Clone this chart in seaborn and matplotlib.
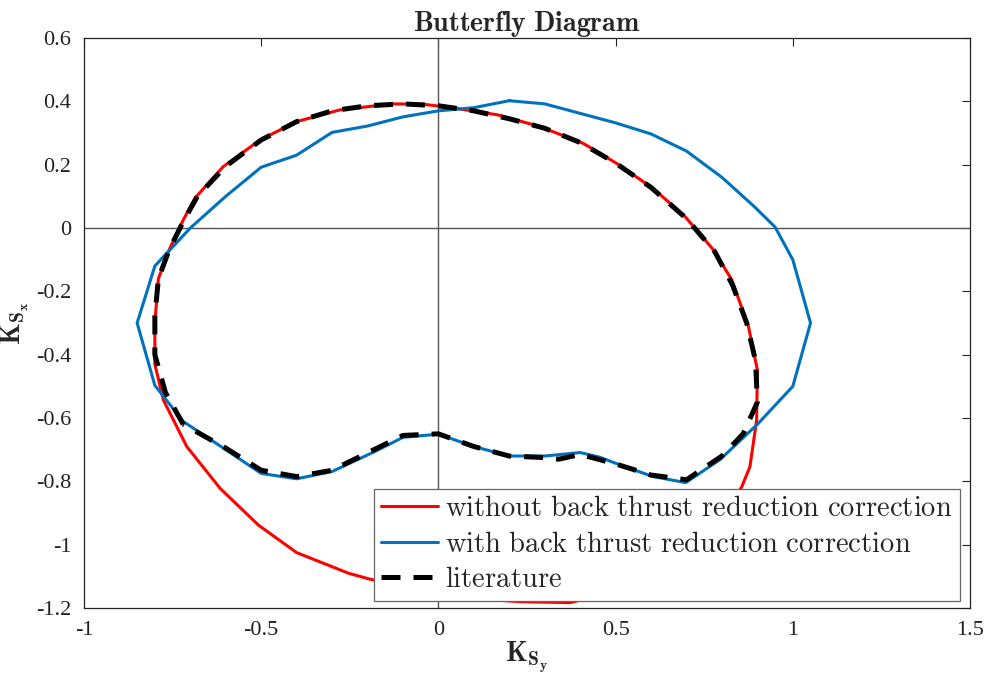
import numpy as np, pandas as pd
import matplotlib
matplotlib.use("Agg")
import matplotlib.pyplot as plt
import seaborn as sns

# ---- data ----
without_x = [-0.80, -0.79, -0.76, -0.72, -0.687, -0.607, -0.503, -0.40, -0.278, -0.132, -0.043, 0.05,
             0.169, 0.287, 0.409, 0.503, 0.606, 0.696, 0.776, 0.828, 0.875, 0.90, 0.898, 0.879, 0.856,
             0.80, 0.70, 0.60, 0.50, 0.428, 0.371, 0.23, 0.10, 0.0, -0.10, -0.193, -0.254, -0.40,
             -0.508, -0.616, -0.71, -0.776, -0.80, -0.80]
without_y = [-0.30, -0.16, -0.07, 0.025, 0.094, 0.194, 0.278, 0.336, 0.373, 0.392, 0.391, 0.378,
             0.357, 0.32, 0.267, 0.204, 0.125, 0.036, -0.069, -0.164, -0.312, -0.448, -0.606, -0.754, -0.817,
             -0.92, -1.03, -1.11, -1.15, -1.168, -1.183, -1.18, -1.17, -1.155, -1.13, -1.109, -1.09, -1.025,
             -0.938, -0.822, -0.69, -0.543, -0.43, -0.30]

with_x = [0.2, 0.3, 0.4, 0.5, 0.6, 0.7, 0.8, 0.89, 0.95, 1.0, 1.05, 1.0, 0.9, 0.795, 0.698, 0.606,
          0.512, 0.456, 0.4, 0.3, 0.2, 0.1, 0.0, -0.1, -0.174, -0.3, -0.4, -0.5, -0.6, -0.72, -0.80,
          -0.85, -0.80, -0.70, -0.60, -0.50, -0.40, -0.30, -0.20, -0.10, 0.0, 0.1, 0.2]
with_y = [0.402, 0.392, 0.362, 0.332, 0.297, 0.243, 0.16, 0.069, 0.003, -0.10, -0.30, -0.50, -0.62, -0.731, -0.804, -0.785,
          -0.748, -0.724, -0.709, -0.72, -0.72, -0.69, -0.651, -0.661, -0.703, -0.769, -0.792, -0.775, -0.70, -0.611, -0.497,
          -0.30, -0.12, 0.0, 0.10, 0.192, 0.23, 0.302, 0.322, 0.351, 0.37, 0.38, 0.402]

lit_x = [-0.72, -0.77, -0.80, -0.80, -0.79, -0.76, -0.72, -0.68, -0.60, -0.50, -0.40, -0.30, -0.20, -0.10,
         0.00, 0.10, 0.20, 0.30, 0.40, 0.50, 0.60, 0.70, 0.78, 0.83, 0.87, 0.895, 0.90, 0.86, 0.80, 0.70,
         0.60, 0.50, 0.40, 0.34, 0.30, 0.20, 0.10, 0.00, -0.10, -0.20, -0.30, -0.40, -0.50, -0.60, -0.72]
lit_y = [-0.62, -0.52, -0.40, -0.28, -0.16, -0.07, 0.02, 0.10, 0.195, 0.278, 0.336, 0.37, 0.386, 0.392,
         0.386, 0.37, 0.345, 0.315, 0.27, 0.205, 0.128, 0.03, -0.075, -0.18, -0.30, -0.42, -0.55, -0.65, -0.72, -0.795,
         -0.78, -0.745, -0.715, -0.73, -0.725, -0.72, -0.69, -0.65, -0.655, -0.71, -0.765, -0.785, -0.765, -0.695, -0.62]

labels = [r"$\mathrm{without\ back\ thrust\ reduction\ correction}$",
          r"$\mathrm{with\ back\ thrust\ reduction\ correction}$",
          r"$\mathrm{literature}$"]

sns.set_style("white")
plt.rcParams["font.family"] = ["Liberation Serif", "DejaVu Serif"]
plt.rcParams["mathtext.fontset"] = "cm"

fig = plt.figure(figsize=(9.89, 6.74), dpi=100)
ax = fig.add_axes([0.0849, 0.0979, 0.8959, 0.8457])

ax.axhline(0, color="#555555", lw=1.0, zorder=1)
ax.axvline(0, color="#555555", lw=1.0, zorder=1)

d1 = pd.DataFrame({"x": without_x, "y": without_y})
d2 = pd.DataFrame({"x": with_x, "y": with_y})
d3 = pd.DataFrame({"x": lit_x, "y": lit_y})
sns.lineplot(data=d1, x="x", y="y", sort=False, estimator=None, color="#FF0000", lw=2.2, ax=ax,
             label=labels[0], zorder=2)
sns.lineplot(data=d2, x="x", y="y", sort=False, estimator=None, color="#0072BD", lw=2.2, ax=ax,
             label=labels[1], zorder=3)
sns.lineplot(data=d3, x="x", y="y", sort=False, estimator=None, color="black", lw=3.6, ax=ax,
             label=labels[2], zorder=4)
ax.lines[-1].set_dashes((3.8, 2.6))

ax.set_xlim(-1, 1.5); ax.set_ylim(-1.2, 0.6)
ax.set_xticks([-1, -0.5, 0, 0.5, 1, 1.5])
ax.set_xticklabels(["-1", "-0.5", "0", "0.5", "1", "1.5"])
ax.set_yticks(np.round(np.arange(-1.2, 0.61, 0.2), 1))
ax.set_yticklabels(["-1.2", "-1", "-0.8", "-0.6", "-0.4", "-0.2", "0", "0.2", "0.4", "0.6"])
ax.tick_params(direction="in", length=6, width=0.8, labelsize=16, colors="#222222",
               top=True, right=True, pad=9)
for s in ax.spines.values():
    s.set_visible(True); s.set_color("#222222"); s.set_linewidth(0.9)

ax.set_title(r"$\mathbf{Butterfly\ Diagram}$", fontsize=20, pad=5)
ax.set_xlabel(r"$\mathbf{K}_{\mathbf{S}_{\mathbf{y}}}$", fontsize=20, labelpad=0)
ax.set_ylabel(r"$\mathbf{K}_{\mathbf{S}_{\mathbf{x}}}$", fontsize=20, labelpad=4)

leg = ax.legend(loc="lower right", bbox_to_anchor=(0.989, 0.013), fontsize=20.6, frameon=True,
                fancybox=False, edgecolor="#666666", framealpha=1, handlelength=2.0,
                handletextpad=0.25, labelspacing=0.34, borderpad=0.25, borderaxespad=0)
leg.get_frame().set_linewidth(0.9)

fig.savefig("out.png", dpi=100)
